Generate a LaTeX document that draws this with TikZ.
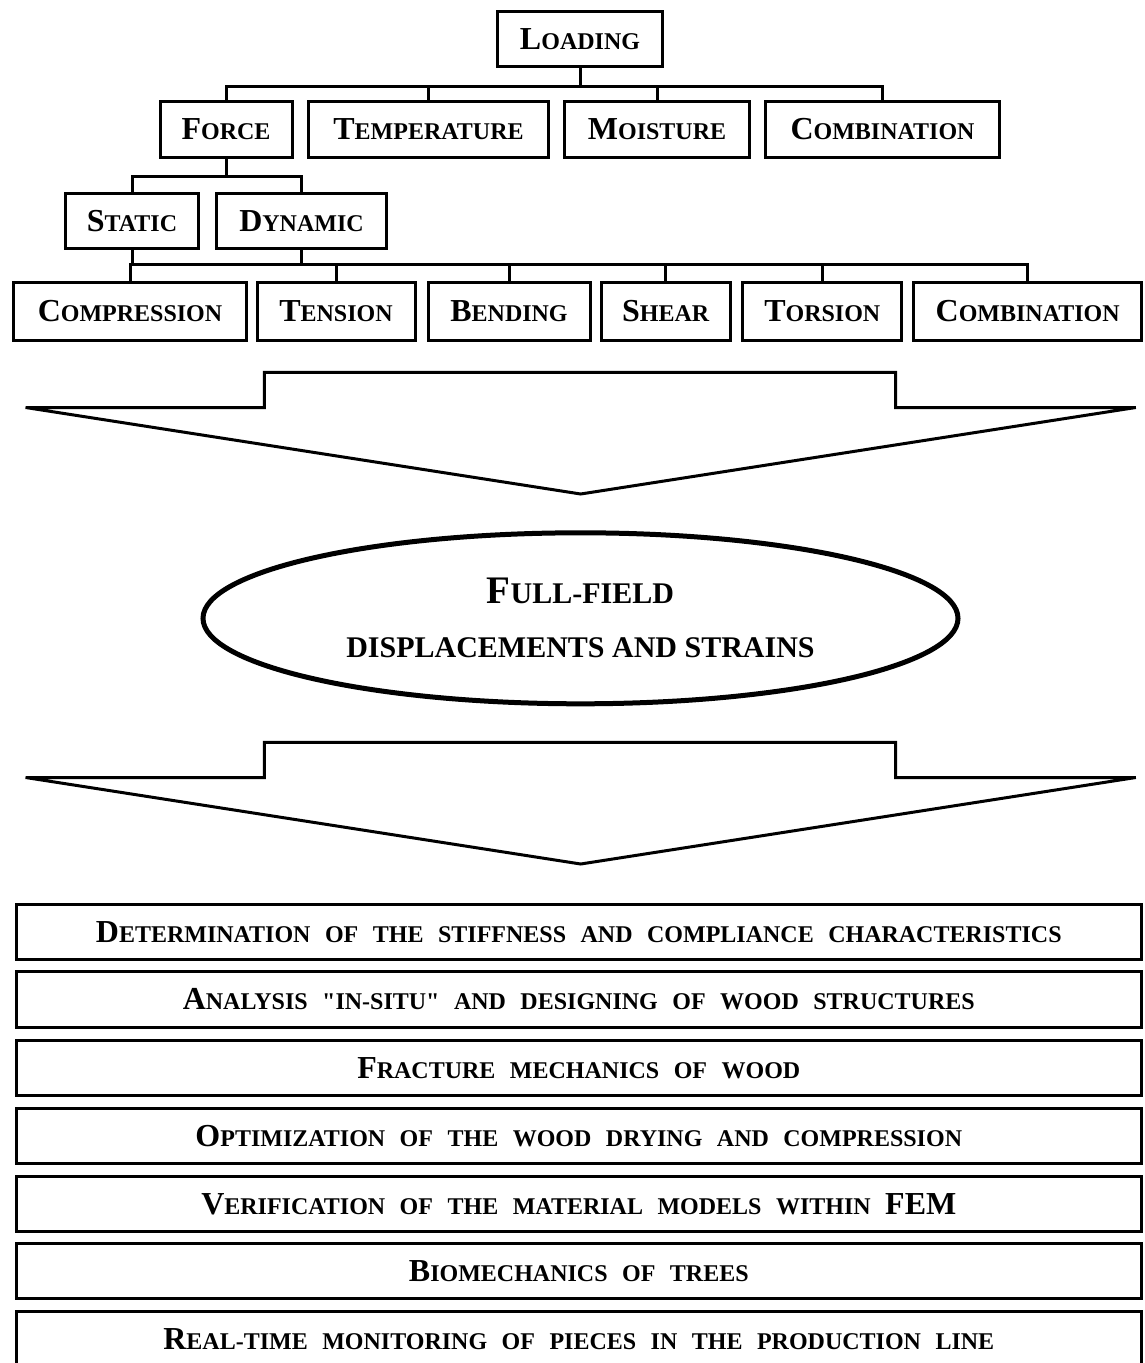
\documentclass[tikz,border=0pt]{standalone}
\usepackage{fontspec}
\setmainfont{Liberation Serif}[Ligatures=TeXOff]
\usetikzlibrary{shapes.geometric}
\newcommand\Lb[2]{{\fontsize{32}{36}\selectfont #1\fontsize{24}{28}\selectfont #2}}
\newcommand\Bg[1]{{\fontsize{32}{36}\selectfont #1}}
\newcommand\Wsp{\spaceskip=14.5pt\relax}
\tikzset{
  box/.style={draw, line width=3pt, inner sep=0pt, font=\bfseries, align=center},
  conn/.style={line width=3pt},
  wide/.style={box, minimum width=1125pt, minimum height=55.5pt},
  blockarrow/.style={draw, line width=3pt, line join=miter, fill=white},
}
\begin{document}
\begin{tikzpicture}[x=1pt,y=-1pt]
\useasboundingbox (0,0) rectangle (1145,1363);
% level 1
\node[box, minimum width=165pt, minimum height=55pt] (loading) at (580,39) {\Lb{L}{OADING}};
% level 2
\node[box, minimum width=132pt, minimum height=56pt] (force) at (226,129.5) {\Lb{F}{ORCE}};
\node[box, minimum width=240pt, minimum height=56pt] (temp) at (428.5,129.5) {\Lb{T}{EMPERATURE}};
\node[box, minimum width=185pt, minimum height=56pt] (moist) at (657,129.5) {\Lb{M}{OISTURE}};
\node[box, minimum width=234pt, minimum height=56pt] (comb) at (882.5,129.5) {\Lb{C}{OMBINATION}};
% level 3
\node[box, minimum width=133pt, minimum height=55pt] (static) at (132,221) {\Lb{S}{TATIC}};
\node[box, minimum width=170pt, minimum height=55pt] (dynamic) at (301.5,221) {\Lb{D}{YNAMIC}};
% level 4
\node[box, minimum width=233pt, minimum height=58pt] (compr) at (130,311) {\Lb{C}{OMPRESSION}};
\node[box, minimum width=158pt, minimum height=58pt] (tension) at (336,311) {\Lb{T}{ENSION}};
\node[box, minimum width=162pt, minimum height=58pt] (bending) at (509,311) {\Lb{B}{ENDING}};
\node[box, minimum width=129pt, minimum height=58pt] (shear) at (665.7,311) {\Lb{S}{HEAR}};
\node[box, minimum width=159pt, minimum height=58pt] (torsion) at (822.3,311) {\Lb{T}{ORSION}};
\node[box, minimum width=228pt, minimum height=58pt] (comb2) at (1027.7,311) {\Lb{C}{OMBINATION}};
% connectors level 1 -> 2
\draw[conn] (loading.south) -- ++(0,18) coordinate (b1);
\foreach \n in {force,temp,moist,comb} \draw[conn] (b1) -| (\n.north);
% level 2 -> 3
\draw[conn] (force.south) -- ++(0,17.7) coordinate (b2);
\foreach \n in {static,dynamic} \draw[conn] (b2) -| (\n.north);
% level 3 -> 4
\draw[conn] (static.south) -- ++(0,14) coordinate (b3);
\draw[conn] (dynamic.south) -- (dynamic.south |- b3);
\foreach \n in {compr,tension,bending,shear,torsion,comb2} \draw[conn] (b3) -| (\n.north);
% block arrow 1
\draw[blockarrow] (25.6,407.5) -- (264.4,407.5) -- (264.4,372.3) -- (895.5,372.3) -- (895.5,407.5) -- (1135.8,407.5) -- (580.7,494) -- cycle;
% ellipse
\node[ellipse, draw, line width=5pt, minimum width=755pt, minimum height=171pt, inner sep=0pt, align=center, font=\bfseries\fontsize{30}{52}\selectfont] (field) at (580.5,618.3)
  {{\fontsize{39}{52}\selectfont F}ULL-FIELD\\[2pt] DISPLACEMENTS AND STRAINS};
% block arrow 2
\draw[blockarrow] (25.6,777.5) -- (264.4,777.5) -- (264.4,742.3) -- (895.5,742.3) -- (895.5,777.5) -- (1135.8,777.5) -- (580.7,864) -- cycle;
% application boxes
\node[wide] (a1) at (578.8,932) {\Wsp\Lb{D}{ETERMINATION OF THE STIFFNESS AND COMPLIANCE CHARACTERISTICS}};
\node[wide] (a2) at (578.8,999.5) {\Wsp\Lb{A}{NALYSIS "IN-SITU" AND DESIGNING OF WOOD STRUCTURES}};
\node[wide] (a3) at (578.8,1068) {\Wsp\Lb{F}{RACTURE MECHANICS OF WOOD}};
\node[wide] (a4) at (578.8,1136) {\Wsp\Lb{O}{PTIMIZATION OF THE WOOD DRYING AND COMPRESSION}};
\node[wide] (a5) at (578.8,1204) {\Wsp\Lb{V}{ERIFICATION OF THE MATERIAL MODELS WITHIN }\Bg{FEM}};
\node[wide] (a6) at (578.8,1271) {\Wsp\Lb{B}{IOMECHANICS OF TREES}};
\node[wide] (a7) at (578.8,1339) {\Wsp\Lb{R}{EAL-TIME MONITORING OF PIECES IN THE PRODUCTION LINE}};
\end{tikzpicture}
\end{document}
